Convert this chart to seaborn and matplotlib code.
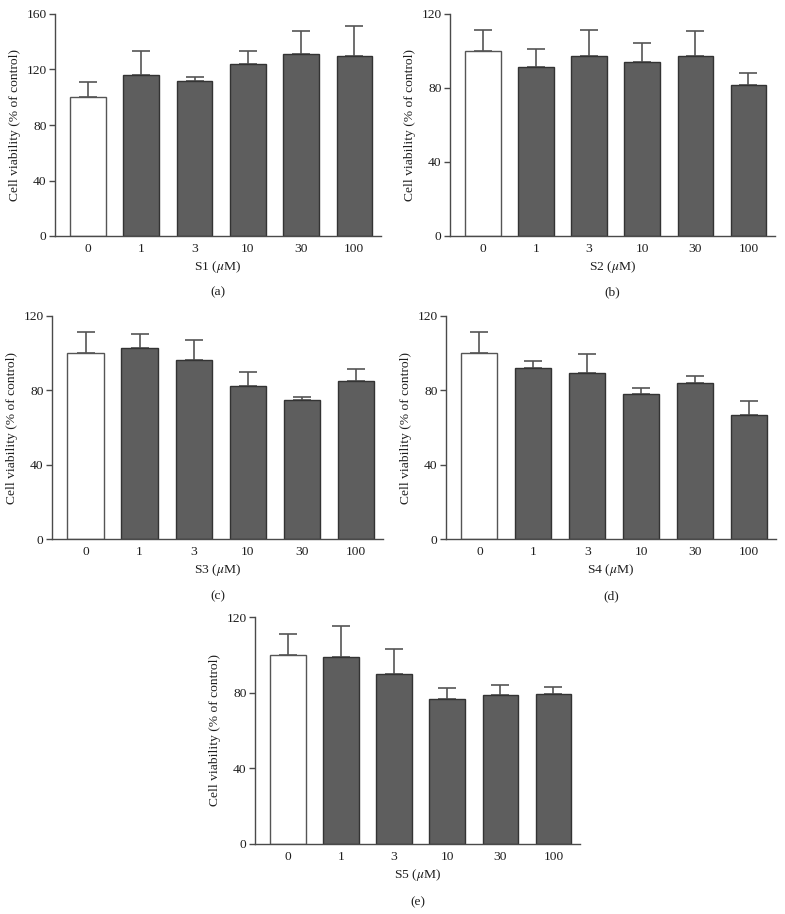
import numpy as np
import pandas as pd
import matplotlib
matplotlib.use("Agg")
import matplotlib.pyplot as plt
import seaborn as sns

sns.set_theme(style="ticks")
plt.rcParams['font.family'] = ['Liberation Serif', 'DejaVu Serif']
plt.rcParams['mathtext.fontset'] = 'stix'

categories = ["0", "1", "3", "10", "30", "100"]

s1_mean = [100.0, 115.8, 111.5, 124.2, 130.9, 129.5]
s1_upper = [111.3, 133.3, 114.6, 133.6, 148.0, 151.0]
s2_mean = [100.0, 91.2, 97.5, 93.9, 97.5, 81.5]
s2_upper = [111.4, 100.9, 111.2, 104.5, 110.6, 88.0]
s3_mean = [100.0, 102.8, 96.2, 82.6, 74.7, 84.8]
s3_upper = [111.4, 110.3, 107.1, 89.9, 76.5, 91.4]
s4_mean = [100.0, 92.1, 89.2, 77.8, 83.9, 66.7]
s4_upper = [111.4, 95.9, 99.8, 81.4, 87.8, 74.0]
s5_mean = [100.0, 98.6, 90.0, 76.4, 78.7, 79.4]
s5_upper = [111.2, 115.2, 102.9, 82.7, 83.8, 83.2]

compounds = ["S1", "S2", "S3", "S4", "S5"]
captions = ["(a)", "(b)", "(c)", "(d)", "(e)"]
ymaxes = [160, 120, 120, 120, 120]

W, H = 785, 914
fig = plt.figure(figsize=(W / 100, H / 100), dpi=100)

# axes boxes in pixels: left, top, right, bottom
boxes = [
    (55, 14, 381, 236),
    (450, 14, 775, 236),
    (52, 316, 383, 539),
    (446, 316, 776, 539),
    (255, 617, 580, 844),
]

means = [s1_mean, s2_mean, s3_mean, s4_mean, s5_mean]
uppers = [s1_upper, s2_upper, s3_upper, s4_upper, s5_upper]

spine_col = "#4a4a4a"
bar_col = "#5e5e5e"
txt_col = "#1e1e1e"
palette = ["#ffffff"] + [bar_col] * 5
fs = 9.7

for i in range(5):
    l, t, r, b = boxes[i]
    ax = fig.add_axes([l / W, 1 - b / H, (r - l) / W, (b - t) / H])
    df = pd.DataFrame({"conc": categories, "val": means[i]})
    sns.barplot(data=df, x="conc", y="val", hue="conc", palette=palette,
                legend=False, width=0.67, edgecolor="#333333", linewidth=1.0,
                ax=ax, errorbar=None)
    for p, c in zip(ax.patches, palette):
        if c == "#ffffff":
            p.set_edgecolor("#555555")
    err = np.array(uppers[i]) - np.array(means[i])
    xs = np.arange(len(categories))
    ax.errorbar(xs, means[i], yerr=[np.zeros_like(err), err], fmt="none",
                ecolor="#555555", elinewidth=1.2, capsize=6.5, capthick=1.2,
                zorder=0)
    ax.set_ylim(0, ymaxes[i])
    ax.set_yticks(np.arange(0, ymaxes[i] + 1, 40))
    ax.set_xlim(-0.62, 5.5)
    sns.despine(ax=ax)
    for s in ["left", "bottom"]:
        ax.spines[s].set_color(spine_col)
        ax.spines[s].set_linewidth(1.0)
    ax.tick_params(axis="y", length=4, width=1.0, color=spine_col,
                   labelsize=fs, pad=2, labelcolor=txt_col)
    ax.tick_params(axis="x", length=0, labelsize=fs, pad=5, labelcolor=txt_col)
    ax.set_ylabel("Cell viability (% of control)", fontsize=fs, color=txt_col,
                  labelpad=4)
    ax.set_xlabel(compounds[i] + r" ($\mu$M)", fontsize=fs, color=txt_col,
                  labelpad=3)
    ax.text(0.5, -0.255, captions[i], transform=ax.transAxes, ha="center",
            va="center", fontsize=fs, color=txt_col)
    ax.set_facecolor("white")

fig.savefig("out.png", dpi=100, facecolor="white")
